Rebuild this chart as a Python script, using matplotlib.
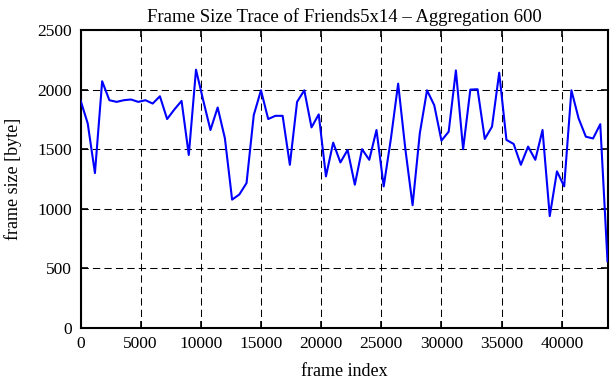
import matplotlib.pyplot as plt
import numpy as np

plt.rcParams['font.family'] = ['Liberation Serif', 'DejaVu Serif']

# aggregated frame sizes, one value per 600 frames
agg = 600
frame_size = [1911, 1716, 1300, 2070, 1911, 1897, 1911, 1917, 1897, 1911,
              1883, 1944, 1753, 1833, 1905, 1452, 2167, 1910, 1661, 1850,
              1592, 1077, 1120, 1216, 1786, 1994, 1753, 1780, 1780, 1369,
              1897, 1994, 1683, 1792, 1272, 1555, 1389, 1494, 1202, 1500,
              1411, 1661, 1188, 1590, 2050, 1500, 1030, 1633, 1994, 1869,
              1572, 1647, 2161, 1500, 2000, 2003, 1586, 1689, 2142, 1578,
              1544, 1369, 1522, 1411, 1661, 939, 1314, 1188, 1994, 1758,
              1605, 1590, 1710, 560]
frame_index = np.arange(len(frame_size)) * agg

xticks = np.arange(0, 40001, 5000)
yticks = np.arange(0, 2501, 500)

fig = plt.figure(figsize=(6.11, 3.80), dpi=100)
ax = fig.add_axes([80.5/611, 52/380, 527/611, 298/380])

ax.plot(frame_index, frame_size, color='#0000ff', lw=1.5, zorder=3)

ax.set_xlim(0, frame_index[-1])
ax.set_ylim(0, 2500)
ax.set_xticks(xticks)
ax.set_yticks(yticks)
ax.grid(True, color='black', lw=0.75, ls=(0, (7, 4)))

ax.tick_params(direction='in', top=True, right=True, length=5, width=1.2,
               labelsize=12.5, pad=6, colors='black')
for s in ax.spines.values():
    s.set_linewidth(1.5)

ax.set_title('Frame Size Trace of Friends5x14 – Aggregation 600', fontsize=13.5, pad=6)
ax.set_xlabel('frame index', fontsize=13, labelpad=8)
ax.set_ylabel('frame size [byte]', fontsize=13, labelpad=11)

fig.savefig('out.png', dpi=100)
